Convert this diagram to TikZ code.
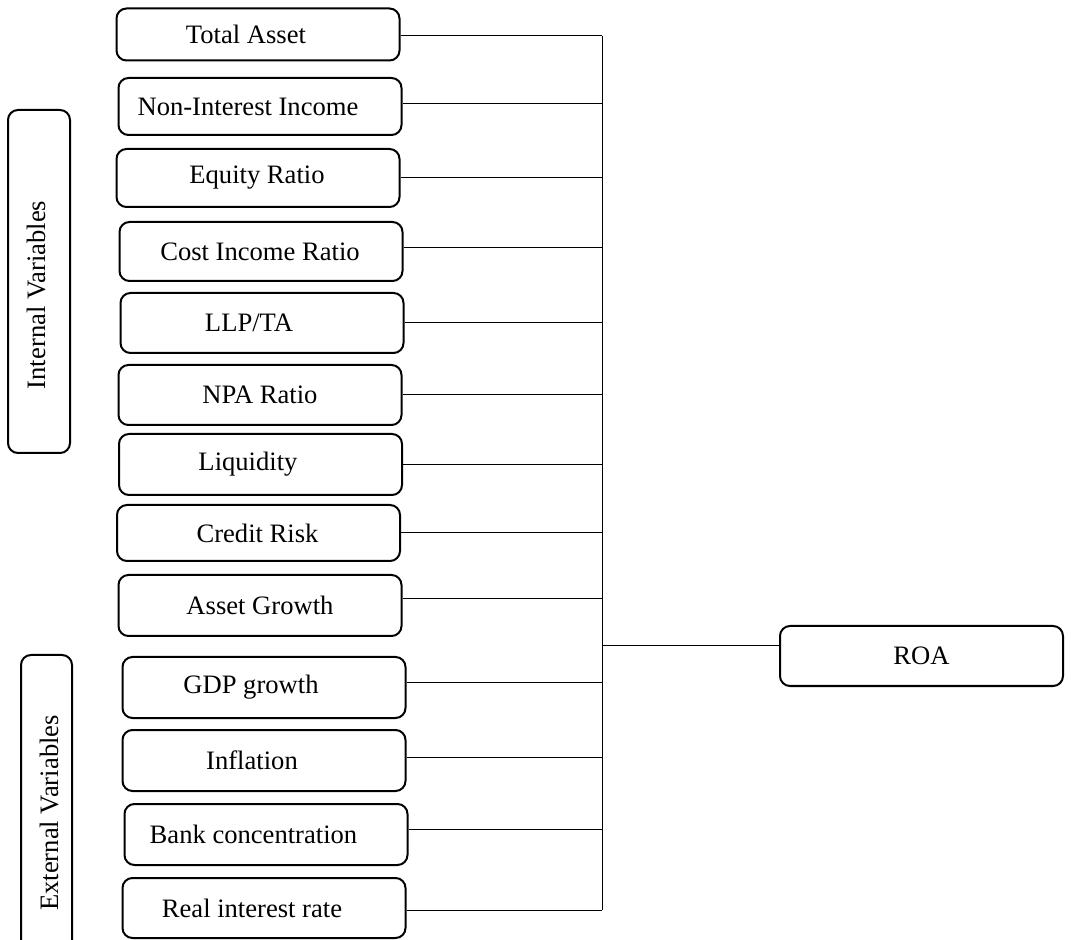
\documentclass[tikz,border=0pt]{standalone}
\usepackage{fontspec}
\setmainfont{Liberation Serif}
\begin{document}
\begin{tikzpicture}[x=0.5pt,y=-0.5pt,
  box/.style={draw, line width=1pt, rounded corners=5pt, inner sep=0pt,
    minimum width=141.5pt, font=\fontsize{13.3}{16}\selectfont},
  sidebox/.style={draw, line width=1pt, rounded corners=5pt, inner sep=0pt},
  sidetext/.style={rotate=90, inner sep=0pt, font=\fontsize{13.3}{16}\selectfont},
  wire/.style={line width=0.5pt}]
\clip (0,0) rectangle (1071,940);
\fill[white] (0,0) rectangle (1071,940);

% group frames on the left
\node[sidebox, minimum width=31pt, minimum height=171.5pt] (intbox) at (39,281.5) {};
\node[sidetext] (inttext) at (36,295) {Internal Variables};
\node[sidebox, minimum width=25.5pt, minimum height=160pt] (extbox) at (46.5,815) {};
\node[sidetext] (exttext) at (49,813) {External Variables};

% explanatory variables
\node[box, minimum height=26pt]   (ta)   at (258,34.5)  {\kern-12pt Total Asset};
\node[box, minimum height=28.5pt] (ni)   at (260,106.5) {\kern-12pt Non-Interest Income};
\node[box, minimum height=29pt]   (eq)   at (258,178)   {\kern-1pt Equity Ratio};
\node[box, minimum height=29.5pt] (ci)   at (261,251.5) {\kern-1pt Cost Income Ratio};
\node[box, minimum height=30pt]   (llp)  at (262,323)   {\kern-13pt LLP/TA};
\node[box, minimum height=30pt]   (npa)  at (260,395)   {NPA Ratio};
\node[box, minimum height=30.5pt] (liq)  at (260.5,464.5) {\kern-12.5pt Liquidity};
\node[box, minimum height=28pt]   (cr)   at (258.5,533) {\kern-1pt Credit Risk};
\node[box, minimum height=30.5pt] (ag)   at (260,605.5) {Asset Growth};
\node[box, minimum height=30.5pt] (gdp)  at (264,687.5) {\kern-13pt GDP growth};
\node[box, minimum height=30.5pt] (inf)  at (264,760.5) {\kern-12pt Inflation};
\node[box, minimum height=30.5pt] (bank) at (266,834.5) {\kern-12.5pt Bank concentration};
\node[box, minimum height=30pt]   (real) at (264,908)   {\kern-12pt Real interest rate};

% dependent variable
\node[box, minimum height=30pt] (roa) at (921.5,656) {ROA};

% collecting bus
\coordinate (bus) at (602,0);
\coordinate (bustop) at (602,36);
\coordinate (busbot) at (602,910);
\draw[wire] (bustop) -- (busbot);

\draw[wire] ([yshift=-0.75pt]ta.east) coordinate (c1) -- (c1 -| bus);
\draw[wire] ([yshift=1.25pt]ni.east) coordinate (c2) -- (c2 -| bus);
\draw[wire] (eq.east) -- (eq.east -| bus);
\draw[wire] ([yshift=1.75pt]ci.east) coordinate (c4) -- (c4 -| bus);
\draw[wire] (llp.east) -- (llp.east -| bus);
\draw[wire] (npa.east) -- (npa.east -| bus);
\draw[wire] (liq.east) -- (liq.east -| bus);
\draw[wire] (cr.east) -- (cr.east -| bus);
\draw[wire] ([yshift=3.25pt]ag.east) coordinate (c9) -- (c9 -| bus);
\draw[wire] ([yshift=2.25pt]gdp.east) coordinate (c10) -- (c10 -| bus);
\draw[wire] ([yshift=1.75pt]inf.east) coordinate (c11) -- (c11 -| bus);
\draw[wire] ([yshift=2.75pt]bank.east) coordinate (c12) -- (c12 -| bus);
\draw[wire] ([yshift=-1pt]real.east) coordinate (c13) -- (c13 -| bus);
\draw[wire] ([yshift=5pt]roa.west) coordinate (c14) -- (c14 -| bus);
\end{tikzpicture}
\end{document}
